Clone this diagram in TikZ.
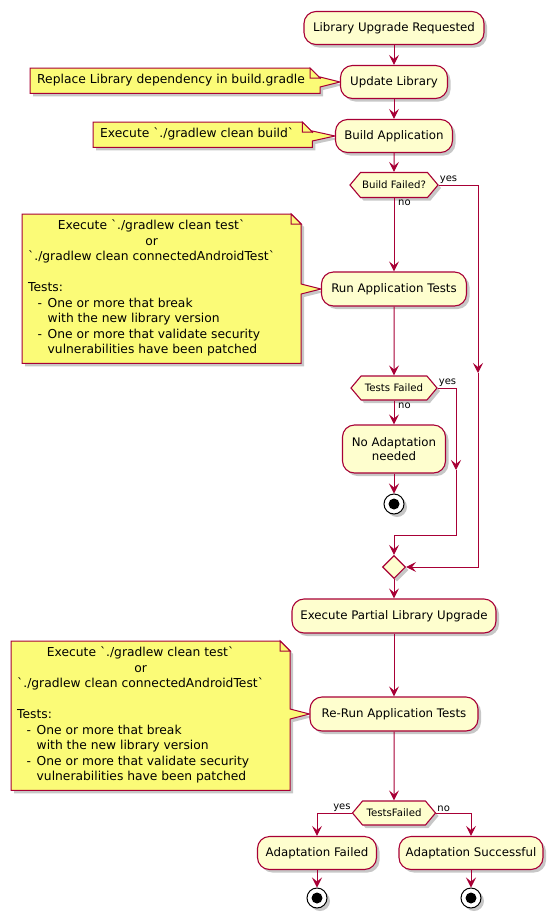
\documentclass[tikz,border=0pt]{standalone}
\usepackage{fontspec}
\setmainfont{DejaVu Sans}
\usetikzlibrary{arrows.meta,shapes.geometric,shapes.symbols,shadows,backgrounds,calc}
\definecolor{pborder}{HTML}{A80036}
\definecolor{pfill}{HTML}{FEFECE}
\definecolor{nfill}{HTML}{FBFB77}
\newcommand\bq{\textasciigrave}
\tikzset{
  shd/.style={drop shadow={shadow xshift=3pt, shadow yshift=-3pt, opacity=0.22, fill=black}},
  act/.style={rectangle, rounded corners=12pt, draw=pborder, fill=pfill, line width=1.1pt, minimum height=33pt, inner xsep=6pt, inner ysep=3pt, font=\fontsize{11.8}{14.5}\selectfont, align=center, shd},
  hexd/.style={signal, signal to=east and west, signal pointer angle=100, draw=pborder, fill=pfill, line width=1.1pt, minimum height=24pt, inner xsep=1pt, inner ysep=2pt, font=\fontsize{10.2}{12}\selectfont, shd},
  mergd/.style={diamond, draw=pborder, fill=pfill, line width=1.1pt, minimum width=23pt, minimum height=23pt, inner sep=0pt, shd},
  endnode/.style={circle, draw=black, fill=white, line width=1pt, minimum size=20pt, inner sep=0pt, shd, path picture={\fill[black] (path picture bounding box.center) circle (5.5pt);}},
  flow/.style={draw=pborder, line width=1pt, -{Stealth[length=10pt,width=10pt,inset=4pt]}},
  lbl/.style={font=\fontsize{10}{12}\selectfont, inner sep=1pt, text=black},
  notetxt/.style={inner xsep=0pt, inner ysep=4.75pt, font=\fontsize{12.3}{15.5}\selectfont, anchor=north west},
  notebody/.style={draw=pborder, fill=nfill, line width=1pt, shd},
  notefold/.style={draw=pborder, fill=nfill, line width=1pt},
}
\newcommand\notepoly[2]{%
  \path[notebody] (#1.north west) -- ($(#1.north east)+(-10,0)$) -- ($(#1.north east)+(0,10)$) -- ($(#1.east |- #2.west)+(0,-5)$) -- (#2.west) -- ($(#1.east |- #2.west)+(0,5)$) -- (#1.south east) -- (#1.south west) -- cycle;
  \path[notefold] ($(#1.north east)+(-10,0)$) -- ($(#1.north east)+(-10,10)$) -- ($(#1.north east)+(0,10)$) -- cycle;}
\begin{document}
\begin{tikzpicture}[x=1pt,y=-1pt]
\begin{scope}[on background layer]
\fill[white] (0,0) rectangle (552,919);
\end{scope}
\useasboundingbox (0,0) rectangle (552,919);

% activities
\node[act, minimum width=180pt] (start) at (394,28) {Library Upgrade Requested};
\node[act, minimum width=107pt] (upd) at (394,82) {Update Library};
\node[act, minimum width=117pt] (build) at (394,136) {Build Application};
\node[hexd, minimum width=88pt, minimum height=25pt] (bf) at (394,185) {Build Failed?};
\node[act, minimum width=145pt, minimum height=34pt] (run) at (394,289) {Run Application Tests};
\node[hexd, minimum width=86pt] (tf) at (394,388) {Tests Failed};
\node[act, minimum width=103pt, minimum height=48pt] (noad) at (394,449) {No Adaptation\\needed};
\node[endnode] (stop1) at (394,504) {};
\node[mergd] (merge) at (394,567) {};
\node[act, minimum width=204pt, minimum height=34pt] (partial) at (394,616) {Execute Partial Library Upgrade};
\node[act, minimum width=168pt, minimum height=34pt] (rerun) at (394,714) {Re-Run Application Tests};
\node[hexd, minimum width=83pt] (tf2) at (394,813) {TestsFailed};
\node[act, minimum width=119pt] (afail) at (317,853) {Adaptation Failed};
\node[act, minimum width=144pt] (asucc) at (471,853) {Adaptation Successful};
\node[endnode] (stopA) at (317,898) {};
\node[endnode] (stopB) at (471,898) {};

% notes
\node[notetxt] (n1) at (30,68) {\begin{tabular}{@{\hspace{7pt}}l@{\hspace{15pt}}}Replace Library dependency in build.gradle\end{tabular}};
\node[notetxt] (n2) at (93,122) {\begin{tabular}{@{\hspace{7pt}}l@{\hspace{18pt}}}Execute \bq./gradlew clean build\bq\end{tabular}};
\node[notetxt] (n3) at (22,214) {\begin{tabular}{@{\hspace{6pt}}l@{\hspace{26pt}}}
\multicolumn{1}{@{\hspace{6pt}}c@{\hspace{26pt}}}{Execute \bq./gradlew clean test\bq}\\
\multicolumn{1}{@{\hspace{6pt}}c@{\hspace{26pt}}}{or}\\
\bq./gradlew clean connectedAndroidTest\bq\\
\\
Tests:\\
\hspace*{9.5pt}\makebox[10pt][l]{-}One or more that break\\
\hspace*{19.5pt}with the new library version\\
\hspace*{9.5pt}\makebox[10pt][l]{-}One or more that validate security\\
\hspace*{19.5pt}vulnerabilities have been patched
\end{tabular}};
\node[notetxt] (n4) at (11,641) {\begin{tabular}{@{\hspace{6pt}}l@{\hspace{26pt}}}
\multicolumn{1}{@{\hspace{6pt}}c@{\hspace{26pt}}}{Execute \bq./gradlew clean test\bq}\\
\multicolumn{1}{@{\hspace{6pt}}c@{\hspace{26pt}}}{or}\\
\bq./gradlew clean connectedAndroidTest\bq\\
\\
Tests:\\
\hspace*{9.5pt}\makebox[10pt][l]{-}One or more that break\\
\hspace*{19.5pt}with the new library version\\
\hspace*{9.5pt}\makebox[10pt][l]{-}One or more that validate security\\
\hspace*{19.5pt}vulnerabilities have been patched
\end{tabular}};
\begin{scope}[on background layer]
\notepoly{n1}{upd}
\notepoly{n2}{build}
\notepoly{n3}{run}
\notepoly{n4}{rerun}
\end{scope}

% connectors
\coordinate (bfr) at (478,185);
\coordinate (bfm) at (478,373);
\coordinate (bfb) at (478,567);
\coordinate (tfr) at (456,388);
\coordinate (tfm) at (456,470);
\coordinate (tfb) at (456,535);
\coordinate (tfc) at (394,535);
\coordinate (ya) at (317,813);
\coordinate (na) at (471,813);

\draw[flow] (start) -- (upd);
\draw[flow] (upd) -- (build);
\draw[flow] (build) -- (bf);
\draw[flow] (bf.south) -- (run.north);
\draw[flow] (bf.east) -- (bfr) -- (bfm);
\draw[flow] (bfm) -- (bfb) -- (merge.east);
\draw[flow] (run) -- (tf);
\draw[flow] (tf.south) -- (noad.north);
\draw[flow] (tf.east) -- (tfr) -- (tfm);
\draw[flow] (tfm) -- (tfb) -- (tfc) -- (merge.north);
\draw[flow] (noad) -- (stop1);
\draw[flow] (merge) -- (partial);
\draw[flow] (partial) -- (rerun);
\draw[flow] (rerun) -- (tf2);
\draw[flow] (tf2.west) -- (ya) -- (afail.north);
\draw[flow] (tf2.east) -- (na) -- (asucc.north);
\draw[flow] (afail) -- (stopA);
\draw[flow] (asucc) -- (stopB);

% labels
\node[lbl, anchor=south west] (lbfyes) at (bf.east) {yes};
\node[lbl, anchor=north west] (lbfno) at ($(bf.south)+(3,1)$) {no};
\node[lbl, anchor=south west] (ltfyes) at (tf.east) {yes};
\node[lbl, anchor=north west] (ltfno) at ($(tf.south)+(3,1)$) {no};
\node[lbl, anchor=south east] (ltf2yes) at (tf2.west) {yes};
\node[lbl, anchor=south west] (ltf2no) at (tf2.east) {no};
\end{tikzpicture}
\end{document}
